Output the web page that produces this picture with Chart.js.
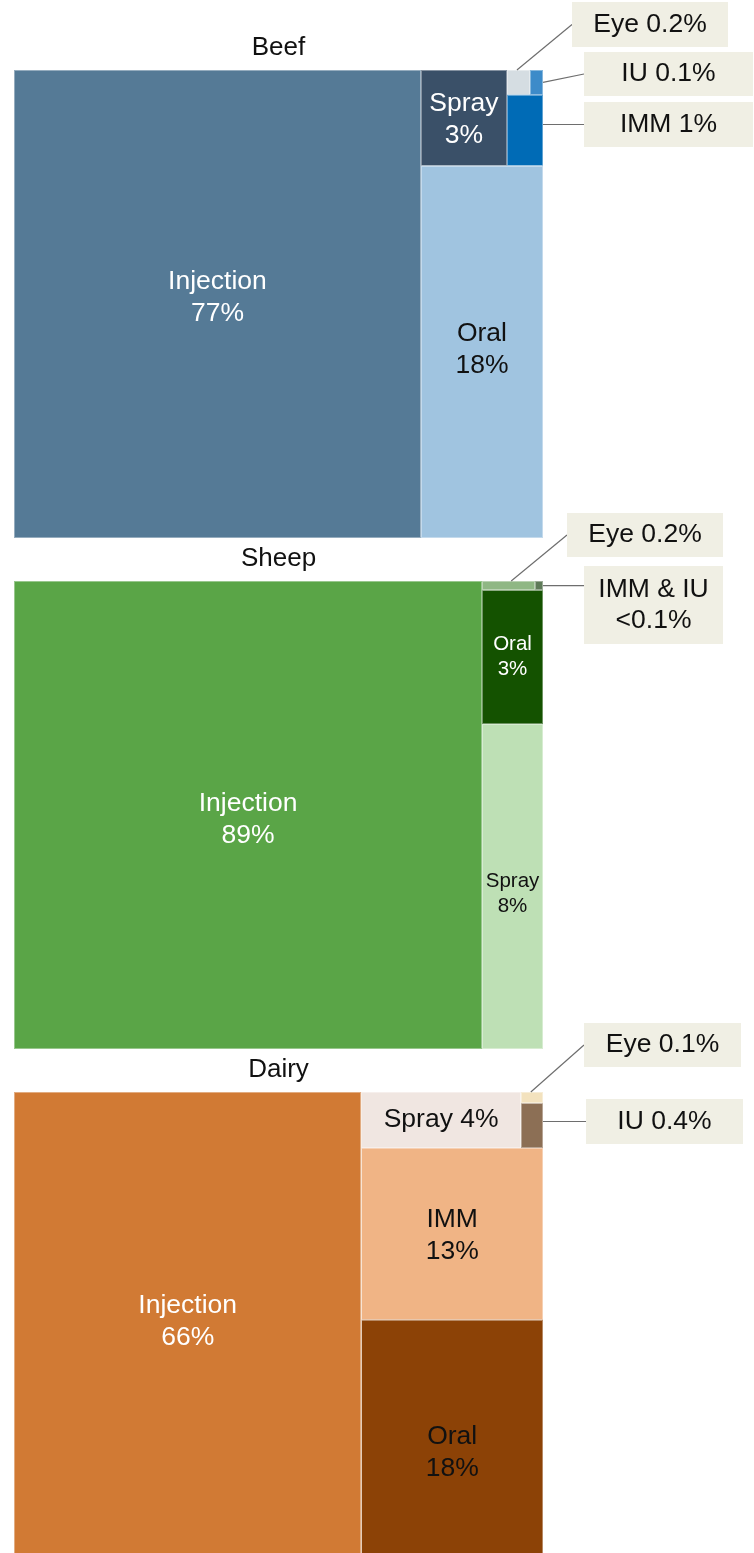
<!DOCTYPE html>
<html>
<head>
<meta charset="utf-8">
<script src="https://cdn.jsdelivr.net/npm/chart.js@4.4.1/dist/chart.umd.min.js"></script>
<style>
  html, body { margin: 0; padding: 0; background: #ffffff; width: 754px; height: 1553px; overflow: hidden; }
  .wrap { position: absolute; left: 0; width: 754px; height: 540px; }
  canvas { display: block; }
</style>
</head>
<body>
<div class="wrap" style="top:0px"><canvas id="beef" width="754" height="540"></canvas></div>
<div class="wrap" style="top:511px"><canvas id="sheep" width="754" height="540"></canvas></div>
<div class="wrap" style="top:1022px"><canvas id="dairy" width="754" height="540"></canvas></div>
<script>
// ---------------- DATA (share of use by administration route, %) ----------------
const chartTitles = ['Beef', 'Sheep', 'Dairy'];

const beefCategories = ['Injection', 'Oral', 'Spray', 'IMM', 'Eye', 'IU'];
const beefValues     = [76.9, 18.35, 3.33, 1.03, 0.23, 0.13];
const beefLabels     = ['77%', '18%', '3%', '1%', '0.2%', '0.1%'];

const sheepCategories = ['Injection', 'Spray', 'Oral', 'Eye', 'IMM & IU'];
const sheepValues     = [88.5, 8.0, 3.3, 0.2, 0.03];
const sheepLabels     = ['89%', '8%', '3%', '0.2%', '<0.1%'];

const dairyCategories = ['Injection', 'Oral', 'IMM', 'Spray', 'IU', 'Eye'];
const dairyValues     = [65.6, 17.6, 12.6, 3.6, 0.4, 0.1];
const dairyLabels     = ['66%', '18%', '13%', '4%', '0.4%', '0.1%'];

// ---------------- STYLE / LAYOUT ----------------
const FONT = '"Liberation Sans", Arial, Helvetica, sans-serif';
const CANVAS_W = 754, CANVAS_H = 540;
const PAD = { left: 14, right: 211, top: 0, bottom: 2 };
const TITLE_PAD = { top: 32.4, bottom: 6.4 };
const TITLE_SIZE = 26;
const AREA_W = CANVAS_W - PAD.left - PAD.right;
const AREA_H = CANVAS_H - PAD.top - PAD.bottom - (TITLE_SIZE * 1.2 + TITLE_PAD.top + TITLE_PAD.bottom);

const CALLOUT_BG = '#F0EFE4';
const LEADER_COLOR = '#6e6e6e';
const BORDER_COLOR = 'rgba(255,255,255,0.38)';

// per-cell appearance: fill, text colour, font size, label mode, vertical nudge (px)
const beefStyle = {
  'Injection': { fill: '#557A96', text: '#ffffff', size: 26.5, mode: 'stack', nudge: -6 },
  'Oral':      { fill: '#A0C4E0', text: '#111111', size: 26.5, mode: 'stack', nudge: -2 },
  'Spray':     { fill: '#3A5068', text: '#ffffff', size: 26.5, mode: 'stack', nudge: 2 },
  'IMM':       { fill: '#006BB6', mode: 'callout', box: [584, 102, 169, 45], anchor: 'level' },
  'Eye':       { fill: '#D5DDE2', mode: 'callout', box: [572, 2, 156, 45], anchor: 'top', fx: 0.43 },
  'IU':        { fill: '#3D8BC9', mode: 'callout', box: [584, 52, 169, 44], anchor: 'right' }
};
const sheepStyle = {
  'Injection': { fill: '#5AA547', text: '#ffffff', size: 26.5, mode: 'stack', nudge: 5 },
  'Spray':     { fill: '#BEE0B5', text: '#111111', size: 20.5, mode: 'stack', nudge: 7 },
  'Oral':      { fill: '#145200', text: '#ffffff', size: 20.5, mode: 'stack', nudge: 0 },
  'Eye':       { fill: '#8FB784', mode: 'callout', box: [567, 2, 156, 44], anchor: 'top', fx: 0.55 },
  'IMM & IU':  { fill: '#5E7A58', mode: 'callout', box: [584, 55, 139, 78], anchor: 'rightH', split: true }
};
const dairyStyle = {
  'Injection': { fill: '#D17A34', text: '#ffffff', size: 26.5, mode: 'stack', nudge: -4 },
  'Oral':      { fill: '#8C4206', text: '#111111', size: 26.5, mode: 'stack', nudge: 13 },
  'IMM':       { fill: '#F0B485', text: '#111111', size: 26.5, mode: 'stack', nudge: 2 },
  'Spray':     { fill: '#F0E6E1', text: '#111111', size: 26.5, mode: 'inline', nudge: 0 },
  'IU':        { fill: '#8C6F55', mode: 'callout', box: [586, 77, 157, 45], anchor: 'level' },
  'Eye':       { fill: '#F3E2BE', mode: 'callout', box: [584, 1, 157, 44], anchor: 'top', fx: 0.45 }
};

// ---------------- SQUARIFIED TREEMAP LAYOUT ----------------
function sum(a) { return a.reduce((s, v) => s + v, 0); }
function worst(row, side) {
  const s = sum(row), mx = Math.max(...row), mn = Math.min(...row);
  return Math.max(side * side * mx / (s * s), (s * s) / (side * side * mn));
}
// returns rectangles (top-left origin, in units of W x H)
function squarify(values, W, H) {
  const k = W * H / sum(values);
  const areas = values.map(v => v * k);
  let rect = { x: 0, y: 0, w: W, h: H };
  const out = [];
  let i = 0;
  while (i < areas.length) {
    const side = Math.min(rect.w, rect.h);
    let row = [areas[i]], j = i + 1;
    while (j < areas.length) {
      const next = row.concat(areas[j]);
      if (worst(next, side) <= worst(row, side)) { row = next; j++; } else break;
    }
    const rs = sum(row);
    if (rect.w >= rect.h) {            // column on the left
      const t = rs / rect.h; let yy = rect.y;
      row.forEach(a => { const hh = a / t; out.push({ x: rect.x, y: yy, w: t, h: hh }); yy += hh; });
      rect = { x: rect.x + t, y: rect.y, w: rect.w - t, h: rect.h };
    } else {                            // row along the bottom
      const t = rs / rect.w; let xx = rect.x;
      row.forEach(a => { const ww = a / t; out.push({ x: xx, y: rect.y + rect.h - t, w: ww, h: t }); xx += ww; });
      rect = { x: rect.x, y: rect.y, w: rect.w, h: rect.h - t };
    }
    i = j;
  }
  // convert to data space: x 0..100 (left->right), y 0..100 (bottom->top)
  return out.map(r => ({
    x0: r.x / W * 100, x1: (r.x + r.w) / W * 100,
    y1: 100 - r.y / H * 100, y0: 100 - (r.y + r.h) / H * 100
  }));
}

// ---------------- CHART BUILDER ----------------
function buildChart(canvasId, title, categories, values, labels, style) {
  const rects = squarify(values, AREA_W, AREA_H);
  const datasets = categories.map((c, i) => ({
    label: c,
    data: [{ x: rects[i].x0, y: rects[i].y1 }, { x: rects[i].x1, y: rects[i].y1 }],
    fill: { value: rects[i].y0 },
    backgroundColor: style[c].fill,
    borderColor: 'rgba(0,0,0,0)',
    borderWidth: 0,
    pointRadius: 0,
    pointHoverRadius: 0,
    tension: 0
  }));

  const cellPlugin = {
    id: 'cellLabels_' + canvasId,
    afterDatasetsDraw(chart) {
      const { ctx } = chart;
      const xs = chart.scales.x, ys = chart.scales.y;
      ctx.save();
      // outlines
      categories.forEach((c, i) => {
        const r = rects[i];
        const px0 = xs.getPixelForValue(r.x0), px1 = xs.getPixelForValue(r.x1);
        const pt = ys.getPixelForValue(r.y1), pb = ys.getPixelForValue(r.y0);
        ctx.strokeStyle = BORDER_COLOR;
        ctx.lineWidth = 1;
        ctx.strokeRect(Math.round(px0) + 0.5, Math.round(pt) + 0.5,
                       Math.round(px1) - Math.round(px0) - 1, Math.round(pb) - Math.round(pt) - 1);
      });
      // labels
      categories.forEach((c, i) => {
        const st = style[c];
        const r = rects[i];
        const px0 = xs.getPixelForValue(r.x0), px1 = xs.getPixelForValue(r.x1);
        const pt = ys.getPixelForValue(r.y1), pb = ys.getPixelForValue(r.y0);
        ctx.textAlign = 'center';
        ctx.textBaseline = 'middle';
        if (st.mode === 'stack' || st.mode === 'inline') {
          const lines = st.mode === 'stack' ? [c, labels[i]] : [c + ' ' + labels[i]];
          const lh = st.size * 1.22;
          ctx.font = st.size + 'px ' + FONT;
          ctx.fillStyle = st.text;
          const cx = (px0 + px1) / 2, cy = (pt + pb) / 2 + (st.nudge || 0);
          lines.forEach((t, k) => ctx.fillText(t, cx, cy + (k - (lines.length - 1) / 2) * lh));
        } else if (st.mode === 'callout') {
          const [bx, by, bw, bh] = st.box;
          const bmid = by + bh / 2;
          // leader line
          let sx, sy, ex = bx, ey = bmid;
          const cmid = (pt + pb) / 2;
          if (st.anchor === 'top') { sx = px0 + (px1 - px0) * st.fx; sy = pt; }
          else if (st.anchor === 'right') { sx = px1; sy = cmid; }
          else if (st.anchor === 'rightH') { sx = px1; sy = cmid; ey = cmid; }
          else { sx = px1; sy = Math.min(Math.max(bmid, pt), pb); ey = sy; }
          ctx.strokeStyle = LEADER_COLOR;
          ctx.lineWidth = 1.2;
          ctx.beginPath(); ctx.moveTo(sx, sy); ctx.lineTo(ex, ey); ctx.stroke();
          // box
          ctx.fillStyle = CALLOUT_BG;
          ctx.fillRect(bx, by, bw, bh);
          const lines = st.split ? [c, labels[i]] : [c + ' ' + labels[i]];
          const size = 26.5, lh = 31;
          ctx.font = size + 'px ' + FONT;
          ctx.fillStyle = '#111111';
          lines.forEach((t, k) => ctx.fillText(t, bx + bw / 2, bmid + (k - (lines.length - 1) / 2) * lh));
        }
      });
      ctx.restore();
    }
  };

  return new Chart(document.getElementById(canvasId), {
    type: 'line',
    data: { datasets },
    options: {
      responsive: false,
      animation: false,
      events: [],
      layout: { padding: PAD },
      scales: {
        x: { type: 'linear', min: 0, max: 100, display: false },
        y: { type: 'linear', min: 0, max: 100, display: false }
      },
      plugins: {
        legend: { display: false },
        tooltip: { enabled: false },
        title: {
          display: true,
          text: title,
          fullSize: false,
          color: '#111111',
          font: { family: FONT, size: TITLE_SIZE, weight: 'normal', lineHeight: 1.2 },
          padding: TITLE_PAD
        }
      }
    },
    plugins: [cellPlugin]
  });
}

buildChart('beef',  chartTitles[0], beefCategories,  beefValues,  beefLabels,  beefStyle);
buildChart('sheep', chartTitles[1], sheepCategories, sheepValues, sheepLabels, sheepStyle);
buildChart('dairy', chartTitles[2], dairyCategories, dairyValues, dairyLabels, dairyStyle);
</script>
</body>
</html>
